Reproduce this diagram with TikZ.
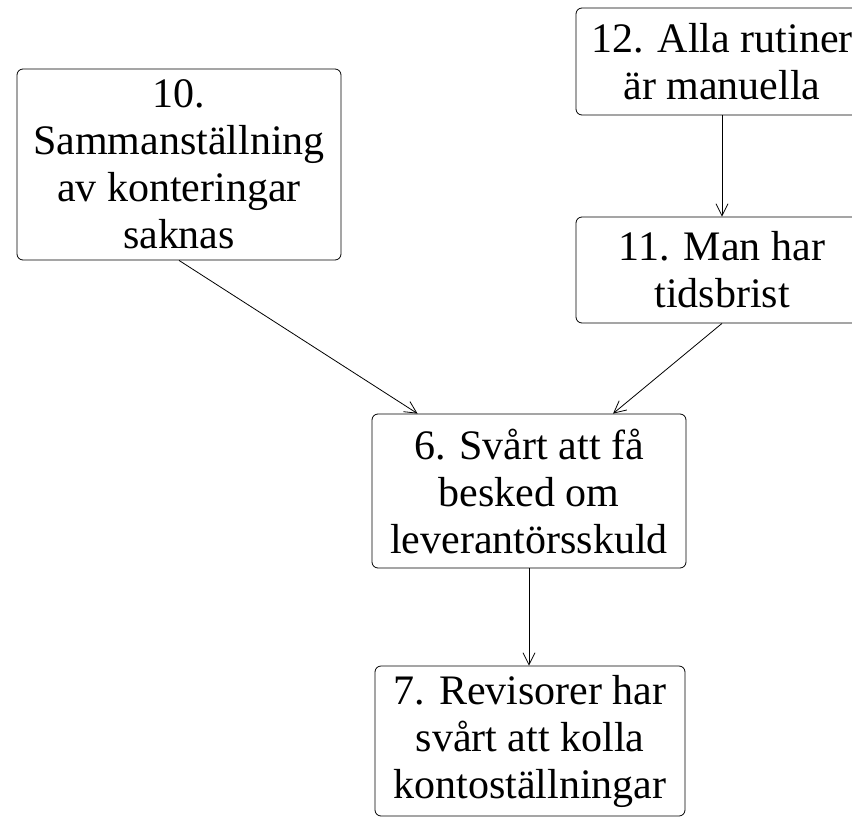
\documentclass[tikz,border=0pt]{standalone}
\usepackage{fontspec}
\setmainfont{Liberation Serif}
\usetikzlibrary{arrows.meta,calc}

\begin{document}
\begin{tikzpicture}[x=1pt,y=-1pt,
  causebox/.style={draw, rounded corners=6pt, line width=0.8pt, inner sep=0pt,
    align=center, font=\fontsize{42}{47}\selectfont},
  link/.style={line width=0.8pt, -{Straight Barb[length=12pt,width=12pt,line width=0.8pt]}}]
  \useasboundingbox (0,0) rectangle (852,817);

  % cause boxes
  \node[causebox, minimum width=292pt, minimum height=107pt] (b12) at (722,61.5)
    {12. Alla rutiner\\är manuella};
  \node[causebox, minimum width=292pt, minimum height=106pt] (b11) at (722,270)
    {11. Man har\\tidsbrist};
  \node[causebox, minimum width=324pt, minimum height=191pt] (b10) at (179,164.5)
    {10.\\Sammanställning\\av konteringar\\saknas};
  \node[causebox, minimum width=314pt, minimum height=154pt] (b6) at (529,491)
    {6. Svårt att få\\besked om\\leverantörsskuld};
  \node[causebox, minimum width=310pt, minimum height=150pt] (b7) at (530,741)
    {7. Revisorer har\\svårt att kolla\\kontoställningar};

  % arrow landing points on the top edge of box 6
  \coordinate (in10) at ($(b6.north west)!0.146!(b6.north east)$);
  \coordinate (in11) at ($(b6.north west)!0.767!(b6.north east)$);

  % connectors
  \draw[link] (b12.south) -- (b11.north);
  \draw[link] (b10.south) -- (in10);
  \draw[link] (b11.south) -- (in11);
  \draw[link] (b6.south) -- (b6.south |- b7.north);
\end{tikzpicture}
\end{document}
